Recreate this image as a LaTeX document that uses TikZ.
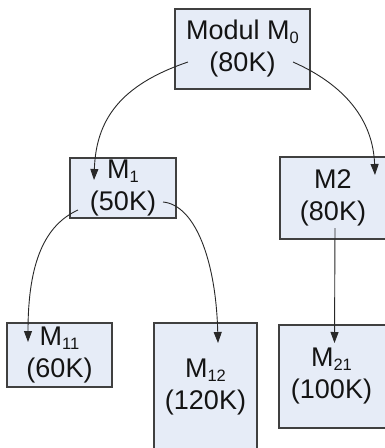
\documentclass[tikz,border=0pt]{standalone}
\usepackage{fontspec}
\setmainfont{Liberation Sans}
\usetikzlibrary{arrows.meta,calc}
\definecolor{boxfill}{RGB}{230,236,247}
\definecolor{boxline}{RGB}{64,64,64}
\definecolor{txt}{RGB}{20,20,20}
\definecolor{conn}{RGB}{40,40,40}
\newcommand\subx[1]{\raisebox{-0.13em}{\fontsize{16.5}{16.5}\selectfont #1}}
\begin{document}
\begin{tikzpicture}[x=1pt,y=-1pt,
  modbox/.style={draw=boxline, fill=boxfill, line width=1.2pt, inner sep=0pt,
    align=center, text=txt, font=\fontsize{27}{32}\selectfont},
  conline/.style={draw=conn, line width=0.9pt, -{Triangle[length=11pt,width=8pt]}}]
\useasboundingbox (0,0) rectangle (384,448);
\fill[white] (0,0) rectangle (384,448);
% boxes
\node[modbox, minimum width=135pt, minimum height=80pt] (m0) at (242.5,49) {Modul M\subx{0}\\(80K)};
\node[modbox, minimum width=106pt, minimum height=60pt] (m1) at (123,188) {M\subx{1}\\(50K)};
\node[modbox, minimum width=110pt, minimum height=82pt] (m2) at (335,198) {\hspace*{-4pt}M2\\\hspace*{-4pt}(80K)};
\node[modbox, minimum width=105pt, minimum height=64pt] (m11) at (59.5,355) {M\subx{11}\\(60K)};
\node[modbox, minimum width=103pt, minimum height=128pt] (m12) at (205.5,387) {M\subx{12}\\(120K)};
\node[modbox, minimum width=111pt, minimum height=103pt] (m21) at (334.5,376.5) {\hspace*{-6pt}M\subx{21}\\\hspace*{-6pt}(100K)};
% connector end points
\coordinate (s01) at ($(m0.center)+(-54.5,13)$);
\coordinate (e01) at ($(m1.center)+(-29,-8)$);
\coordinate (s02) at ($(m0.center)+(50.5,13)$);
\coordinate (e02) at ($(m2.center)+(40,-23)$);
\coordinate (s11) at ($(m1.center)+(-45,22)$);
\coordinate (e11) at ($(m11.center)+(-31.5,-13)$);
\coordinate (s12) at ($(m1.center)+(40,14)$);
\coordinate (e12) at ($(m12.center)+(12.5,-44)$);
\coordinate (s21) at ($(m2.center)+(0,30)$);
\coordinate (e21) at ($(m21.center)+(0,-33.5)$);
% connectors
\draw[conline] (s01) .. controls ($(s01)+(-68,23)$) and ($(e01)+(2,-60)$) .. (e01);
\draw[conline] (s02) .. controls ($(s02)+(52,23)$) and ($(e02)+(-2,-55)$) .. (e02);
\draw[conline] (s11) .. controls ($(s11)+(-33,15)$) and ($(e11)+(0,-80)$) .. (e11);
\draw[conline] (s12) .. controls ($(s12)+(32,3)$) and ($(e12)+(-2,-83)$) .. (e12);
\draw[conline] (s21) -- (e21);
\end{tikzpicture}
\end{document}
